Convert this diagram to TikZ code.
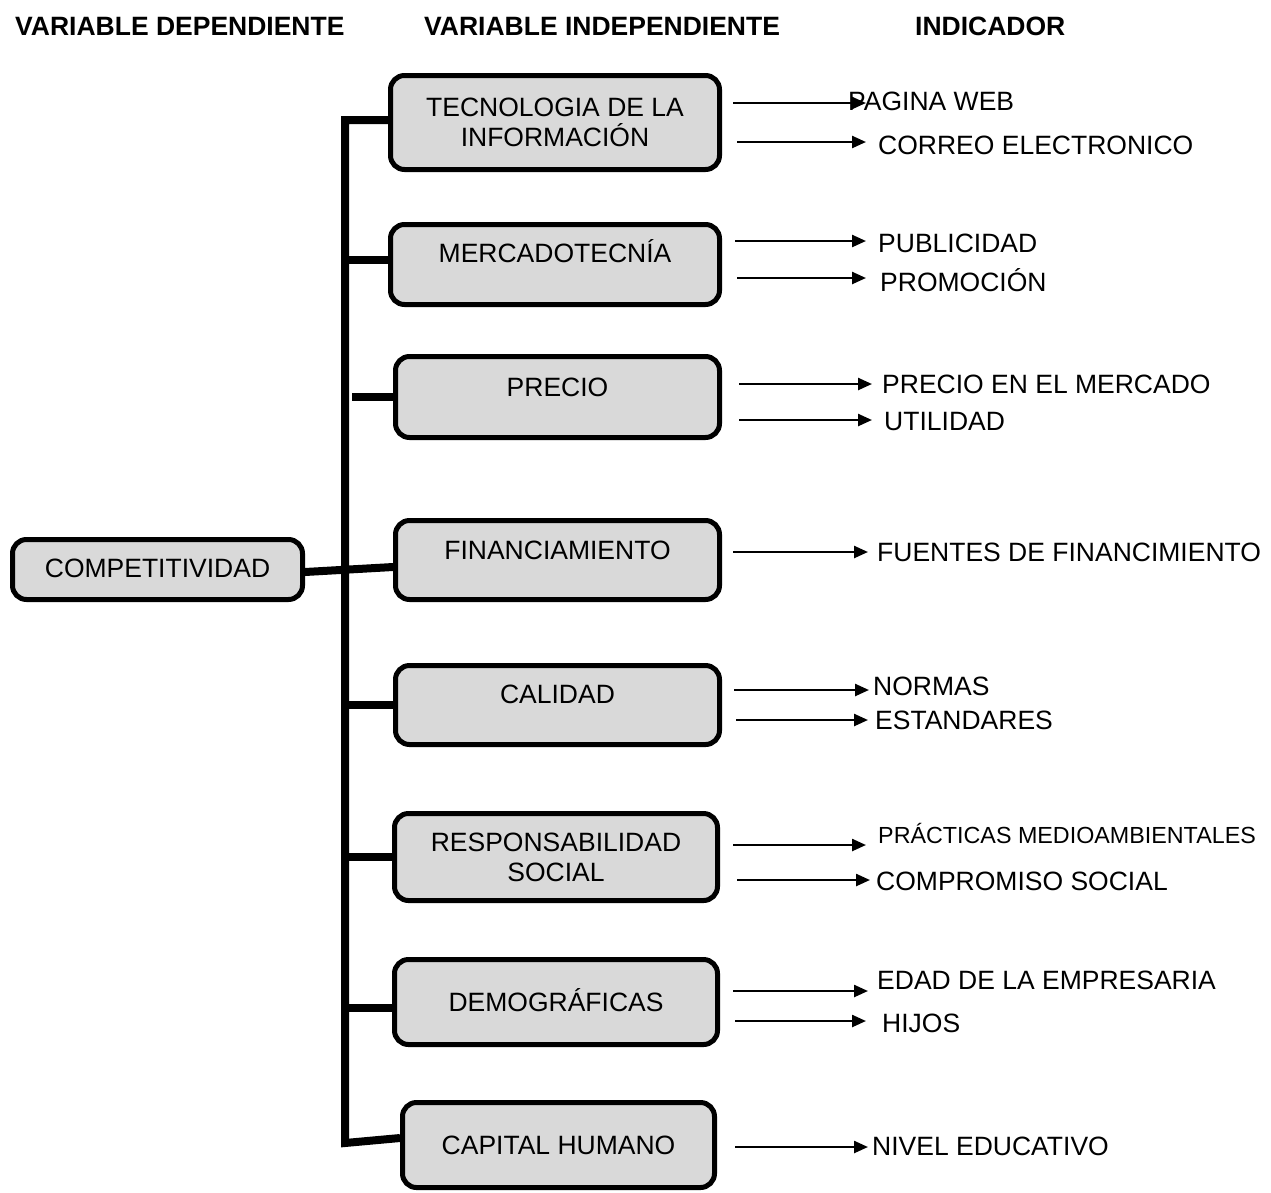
\documentclass[tikz,border=0pt]{standalone}
\usepackage{fontspec}
\setmainfont{Liberation Sans}
\usetikzlibrary{arrows.meta}
\definecolor{boxgray}{RGB}{217,217,217}
\newcommand\fsz{\fontsize{26.5}{30}\selectfont}
\newcommand\fsm{\fontsize{23.3}{27}\selectfont}
\begin{document}
\begin{tikzpicture}[x=1pt,y=-1pt,
  vbox/.style={draw, line width=5pt, rounded corners=14pt, fill=boxgray, font=\fsz, align=center, inner sep=0pt},
  sl/.style={text height=19pt, text depth=#1},
  ind/.style={anchor=base west, inner sep=0pt, font=\fsz},
  hdr/.style={anchor=base west, inner sep=0pt, font=\fsz\bfseries},
  barline/.style={line width=8pt},
  arr/.style={line width=2.4pt, -{Triangle[length=14pt,width=12pt]}}]
\useasboundingbox (0,0) rectangle (1271,1192);

% headers
\node[hdr] (h1) at (15,35.5) {VARIABLE DEPENDIENTE};
\node[hdr] (h2) at (424,35.5) {VARIABLE INDEPENDIENTE};
\node[hdr] (h3) at (915,35.5) {INDICADOR};

% connector lines (drawn first, under boxes)
\coordinate (bartop) at (345,120);
\coordinate (barbot) at (345,1143);
\coordinate (b1w) at (388,120);
\coordinate (b8w) at (400,1138);
\draw[barline, line join=miter] (b1w) -- (bartop) -- (barbot) -- (b8w);
\coordinate (c2) at (345,260);
\coordinate (c3) at (352,397);
\coordinate (c5) at (345,705);
\coordinate (c6) at (345,857);
\coordinate (c7) at (345,1008);
\coordinate (cc) at (305,572);
\coordinate (c4) at (393,567);

% boxes
\node[vbox, sl=3pt, minimum width=290pt, minimum height=60pt] (comp) at (157.5,569.5) {COMPETITIVIDAD};
\node[vbox, minimum width=329pt, minimum height=94pt] (b1) at (555,122.5) {TECNOLOGIA DE LA\\INFORMACIÓN};
\node[vbox, sl=23pt, minimum width=329pt, minimum height=80pt] (b2) at (555,264.5) {MERCADOTECNÍA};
\node[vbox, sl=20pt, minimum width=324pt, minimum height=81pt] (b3) at (557.5,397) {PRECIO};
\node[vbox, sl=20pt, minimum width=324pt, minimum height=79pt] (b4) at (557.5,560) {FINANCIAMIENTO};
\node[vbox, sl=22pt, minimum width=324pt, minimum height=79pt] (b5) at (557.5,705) {CALIDAD};
\node[vbox, minimum width=323pt, minimum height=87pt] (b6) at (556,857) {RESPONSABILIDAD\\SOCIAL};
\node[vbox, sl=0pt, minimum width=323pt, minimum height=85pt] (b7) at (556,1002) {DEMOGRÁFICAS};
\node[vbox, sl=0pt, minimum width=312pt, minimum height=85pt] (b8) at (558.5,1145) {CAPITAL HUMANO};

\draw[barline] (c2) -- (c2 -| b2.west);
\draw[barline] (c3) -- (c3 -| b3.west);
\draw[barline] (c5) -- (c5 -| b5.west);
\draw[barline] (c6) -- (c6 -| b6.west);
\draw[barline] (c7) -- (c7 -| b7.west);
\draw[barline] (cc) -- (c4);

% indicators
\node[ind] (i1) at (848,110.5) {PAGINA WEB};
\node[ind] (i2) at (878,154.5) {CORREO ELECTRONICO};
\node[ind] (i3) at (878,252.5) {PUBLICIDAD};
\node[ind] (i4) at (880,291.5) {PROMOCIÓN};
\node[ind] (i5) at (882,393.5) {PRECIO EN EL MERCADO};
\node[ind] (i6) at (884,430.5) {UTILIDAD};
\node[ind] (i7) at (877,561.5) {FUENTES DE FINANCIMIENTO};
\node[ind] (i8) at (873,695.5) {NORMAS};
\node[ind] (i9) at (875,729.5) {ESTANDARES};
\node[ind, font=\fsm] (i10) at (878,843.3) {PRÁCTICAS MEDIOAMBIENTALES};
\node[ind] (i11) at (876,890.5) {COMPROMISO SOCIAL};
\node[ind] (i12) at (877,989.5) {EDAD DE LA EMPRESARIA};
\node[ind] (i13) at (882,1032.5) {HIJOS};
\node[ind] (i14) at (872,1155.5) {NIVEL EDUCATIVO};

% arrows
\coordinate (t1) at (733,103);
\coordinate (t2) at (737,142);
\coordinate (t3) at (735,241);
\coordinate (t4) at (737,278);
\coordinate (t5) at (739,384);
\coordinate (t6) at (739,420);
\coordinate (t7) at (733,552);
\coordinate (t8) at (734,690);
\coordinate (t9) at (736,720);
\coordinate (t10) at (733,845);
\coordinate (t11) at (737,880);
\coordinate (t12) at (733,991);
\coordinate (t13) at (735,1021);
\coordinate (t14) at (735,1147);
\draw[arr, shorten >=-18pt] (t1) -- (t1 -| i1.west);
\draw[arr, shorten >=12pt] (t2) -- (t2 -| i2.west);
\draw[arr, shorten >=12pt] (t3) -- (t3 -| i3.west);
\draw[arr, shorten >=14pt] (t4) -- (t4 -| i4.west);
\draw[arr, shorten >=10pt] (t5) -- (t5 -| i5.west);
\draw[arr, shorten >=12pt] (t6) -- (t6 -| i6.west);
\draw[arr, shorten >=9pt] (t7) -- (t7 -| i7.west);
\draw[arr, shorten >=4pt] (t8) -- (t8 -| i8.west);
\draw[arr, shorten >=7pt] (t9) -- (t9 -| i9.west);
\draw[arr, shorten >=12pt] (t10) -- (t10 -| i10.west);
\draw[arr, shorten >=6pt] (t11) -- (t11 -| i11.west);
\draw[arr, shorten >=9pt] (t12) -- (t12 -| i12.west);
\draw[arr, shorten >=16pt] (t13) -- (t13 -| i13.west);
\draw[arr, shorten >=4pt] (t14) -- (t14 -| i14.west);
\end{tikzpicture}
\end{document}
